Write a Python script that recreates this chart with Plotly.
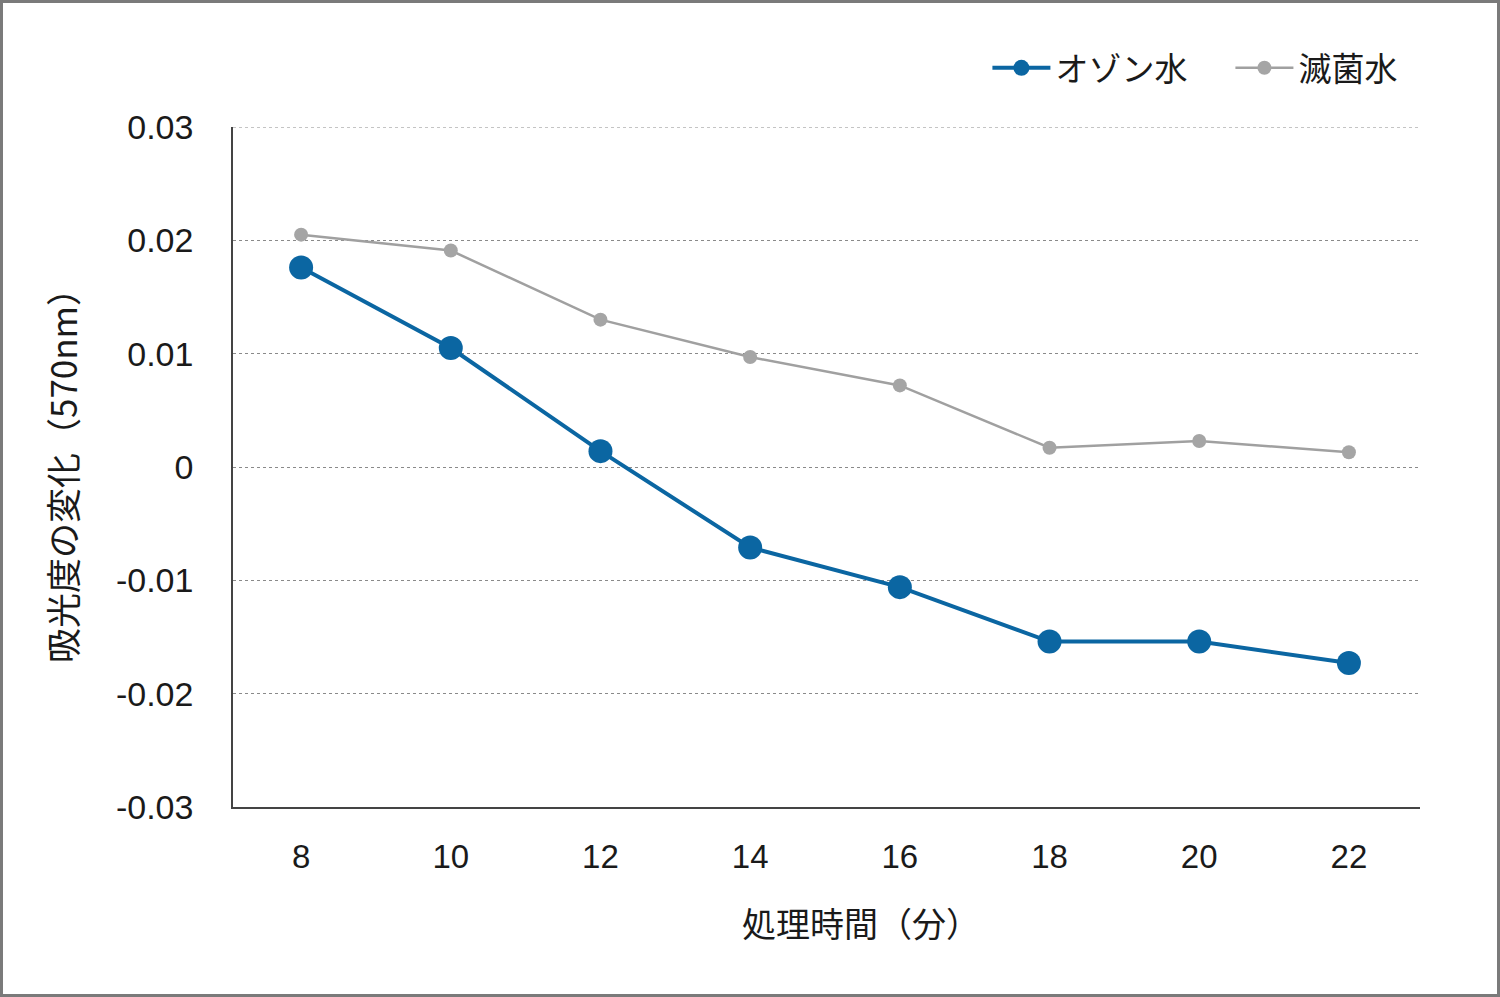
import plotly.graph_objects as go

times = [8, 10, 12, 14, 16, 18, 20, 22]
ozone = [0.0176, 0.0105, 0.0014, -0.0071, -0.0106, -0.0154, -0.0154, -0.0173]
sterile = [0.0205, 0.0191, 0.0130, 0.0097, 0.0072, 0.0017, 0.0023, 0.0013]
y_ticks = [-0.03, -0.02, -0.01, 0, 0.01, 0.02, 0.03]
y_ticktext = ["-0.03", "-0.02", "-0.01", "0", "0.01", "0.02", "0.03"]
series_names = ["オゾン水", "滅菌水"]
x_title = "処理時間（分）"
y_title = "吸光度の変化（570nm）"

FONT = "Liberation Sans, Arial, Helvetica, Noto Sans CJK JP, sans-serif"
JFONT = "Noto Sans CJK JP, Liberation Sans, sans-serif"

W, H = 1500, 997
ML, MR, MT, MB = 233, 80, 127, 190
pw, ph = W - ML - MR, H - MT - MB

fig = go.Figure()
fig.add_trace(go.Scatter(
    x=times, y=ozone, name=series_names[0], mode="lines+markers",
    line=dict(color="#0b66a2", width=4),
    marker=dict(color="#0b66a2", size=24),
))
fig.add_trace(go.Scatter(
    x=times, y=sterile, name=series_names[1], mode="lines+markers",
    line=dict(color="#a0a0a0", width=2.5),
    marker=dict(color="#a5a5a5", size=14),
))

fig.update_layout(
    width=W, height=H,
    margin=dict(l=ML, r=MR, t=MT, b=MB),
    paper_bgcolor="white", plot_bgcolor="white",
    font=dict(family=FONT, color="#1a1a1a", size=34),
    legend=dict(
        orientation="h", x=1.045, xanchor="right", y=1.087, yanchor="middle",
        font=dict(family=JFONT, size=33, color="#1a1a1a"),
        itemwidth=58, entrywidth=170, traceorder="normal", bgcolor="rgba(0,0,0,0)",
    ),
    xaxis=dict(
        range=[7.09, 22.95], tickvals=times, ticktext=[str(t) for t in times],
        showgrid=False, zeroline=False, showline=True, linecolor="#444", linewidth=1.5,
        ticks="", ticklabelstandoff=20,
        tickfont=dict(size=33, family=FONT),
    ),
    yaxis=dict(
        range=[-0.03, 0.03], tickvals=y_ticks, ticktext=y_ticktext,
        showgrid=True, gridcolor="#8a8a8a", griddash="dot", gridwidth=1,
        zeroline=False, showline=True, linecolor="#444", linewidth=1.5,
        ticks="", ticklabelstandoff=31,
        tickfont=dict(size=34, family=FONT),
        title=dict(text=y_title, font=dict(family=JFONT, size=35), standoff=28),
    ),
    annotations=[dict(
        text=x_title, xref="paper", yref="paper",
        x=(861 - ML) / pw, y=-(922 - MT - ph) / ph,
        xanchor="center", yanchor="middle", showarrow=False,
        font=dict(family=JFONT, size=34, color="#1a1a1a"),
    )],
    shapes=[
        dict(
            type="rect", xref="paper", yref="paper",
            x0=-ML / pw + 1.5 / pw, x1=1 + (MR - 1.5) / pw,
            y0=-MB / ph + 1.5 / ph, y1=1 + (MT - 1.5) / ph,
            line=dict(color="#7a7a7a", width=3), fillcolor="rgba(0,0,0,0)", layer="below",
        ),
        dict(
            type="line", xref="paper", yref="y", x0=0, x1=1,
            y0=y_ticks[-1], y1=y_ticks[-1],
            line=dict(color="#8a8a8a", width=1, dash="dot"), layer="below",
        ),
    ],
)

fig.write_html("out.html", config={"displayModeBar": False},
               post_script="document.body.style.margin='0';")
